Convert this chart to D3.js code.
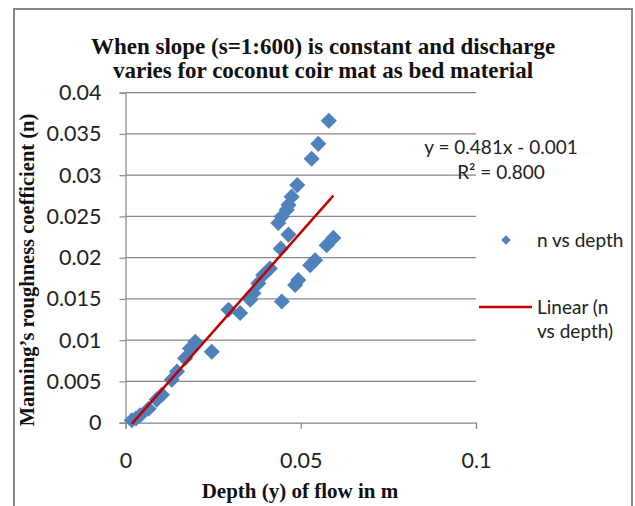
<!DOCTYPE html>
<html><head><meta charset="utf-8">
<script src="https://cdn.jsdelivr.net/npm/d3@7"></script>
<style>body{margin:0;background:#fff}</style>
</head><body>
<svg id="c" width="635" height="506"></svg>
<script>
const depth = [0.0580,0.0550,0.0531,0.0490,0.0474,0.0465,0.0460,0.0446,0.0436,0.0465,0.0443,0.0412,0.0393,0.0379,0.0365,0.0356,0.0327,0.0294,0.0593,0.0574,0.0541,0.0527,0.0493,0.0484,0.0446,0.0246,0.0199,0.0184,0.0170,0.0147,0.0132,0.0104,0.0089,0.0066,0.0042,0.0018,0.0030];
const nVals = [0.0366,0.0338,0.0320,0.0288,0.0274,0.0264,0.0258,0.0250,0.0242,0.0228,0.0211,0.0187,0.0179,0.0169,0.0157,0.0149,0.0133,0.0137,0.0224,0.0215,0.0197,0.0191,0.0173,0.0167,0.0147,0.0086,0.0098,0.0090,0.0078,0.0062,0.0052,0.0034,0.0028,0.0017,0.0009,0.0003,0.0005];
const xTicks = [0, 0.05, 0.1];
const xTickLabels = ["0", "0.05", "0.1"];
const yTicks = [0,0.005,0.01,0.015,0.02,0.025,0.03,0.035,0.04];
const yTickLabels = ["0","0.005","0.01","0.015","0.02","0.025","0.03","0.035","0.04"];
const slope = 0.481, intercept = -0.001;
const titleLines = ["When slope (s=1:600) is constant and discharge","varies for coconut coir mat as bed material"];
const xTitle = "Depth (y) of flow in m";
const yTitle = "Manning\u2019s roughness coefficient (n)";
const eqLines = ["y = 0.481x - 0.001", "R\u00b2 = 0.800"];
const legendLabels = ["n vs depth", "Linear (n", "vs depth)"];

const svg = d3.select("#c");
const gray = "#878787", blue = "#4F81BD", red = "#C00000";
const sans = "Lato, 'Open Sans', sans-serif";
const serif = "'Liberation Serif', serif";

svg.append("rect").attr("x",14).attr("y",9).attr("width",618).attr("height",520)
  .attr("fill","#fff").attr("stroke",gray).attr("stroke-width",2);

const x = d3.scaleLinear().domain([0,0.1]).range([125.5,476]);
const y = d3.scaleLinear().domain([0,0.04]).range([422.7,92.7]);

// gridlines
svg.append("g").selectAll("line").data(yTicks.slice(1)).join("line")
  .attr("x1",x(0)).attr("x2",x(0.1)).attr("y1",d=>y(d)).attr("y2",d=>y(d))
  .attr("stroke",gray).attr("stroke-width",1.2);

// axes
const yAxis = d3.axisLeft(y).tickValues(yTicks).tickFormat((d,i)=>yTickLabels[i]).tickSize(6).tickPadding(18);
const gy = svg.append("g").attr("transform",`translate(${x(0)},0)`).call(yAxis);
const xAxis = d3.axisBottom(x).tickValues(xTicks).tickFormat((d,i)=>xTickLabels[i]).tickSize(6).tickPadding(24);
const gx = svg.append("g").attr("transform",`translate(0,${y(0)})`).call(xAxis);
[gx,gy].forEach(g=>{
  g.select(".domain").attr("stroke",gray).attr("stroke-width",1.2);
  g.selectAll(".tick line").attr("stroke",gray).attr("stroke-width",1.2);
  g.selectAll("text").attr("font-family",sans).attr("font-size",21.5).attr("fill","#222");
});

// points
const diamond = d3.symbol().type(d3.symbolDiamond2).size(165);
svg.append("g").selectAll("path").data(depth.map((d,i)=>[d,nVals[i]])).join("path")
  .attr("d",diamond).attr("transform",d=>`translate(${x(d[0])},${y(d[1])})`)
  .attr("fill",blue);

// trend line
const xmin = d3.min(depth), xmax = d3.max(depth);
svg.append("line").attr("x1",x(xmin)).attr("y1",y(slope*xmin+intercept))
  .attr("x2",x(xmax)).attr("y2",y(slope*xmax+intercept))
  .attr("stroke",red).attr("stroke-width",2.5);

// title
svg.append("g").selectAll("text").data(titleLines).join("text")
  .attr("x",323).attr("y",(d,i)=>54+i*24).attr("text-anchor","middle")
  .attr("font-family",serif).attr("font-weight","bold").attr("font-size",23).attr("fill","#111").text(d=>d);

// axis titles
svg.append("text").attr("x",300).attr("y",498).attr("text-anchor","middle")
  .attr("font-family",serif).attr("font-weight","bold").attr("font-size",21).attr("fill","#111").text(xTitle);
svg.append("text").attr("transform","translate(34,270) rotate(-90)").attr("text-anchor","middle")
  .attr("font-family",serif).attr("font-weight","bold").attr("font-size",20.5).attr("fill","#111").text(yTitle);

// equation
svg.append("g").selectAll("text").data(eqLines).join("text")
  .attr("x",501).attr("y",(d,i)=>154+i*25).attr("text-anchor","middle")
  .attr("font-family",sans).attr("font-size",19).attr("fill","#222").text(d=>d);

// legend
svg.append("path").attr("d",d3.symbol().type(d3.symbolDiamond2).size(60))
  .attr("transform","translate(506,240)").attr("fill",blue);
svg.append("line").attr("x1",479).attr("x2",532).attr("y1",307).attr("y2",307)
  .attr("stroke",red).attr("stroke-width",2.5);
svg.append("g").selectAll("text").data(legendLabels).join("text")
  .attr("x",537).attr("y",(d,i)=>[247,314,338][i])
  .attr("font-family",sans).attr("font-size",19).attr("fill","#222").text(d=>d);
</script>
</body></html>
